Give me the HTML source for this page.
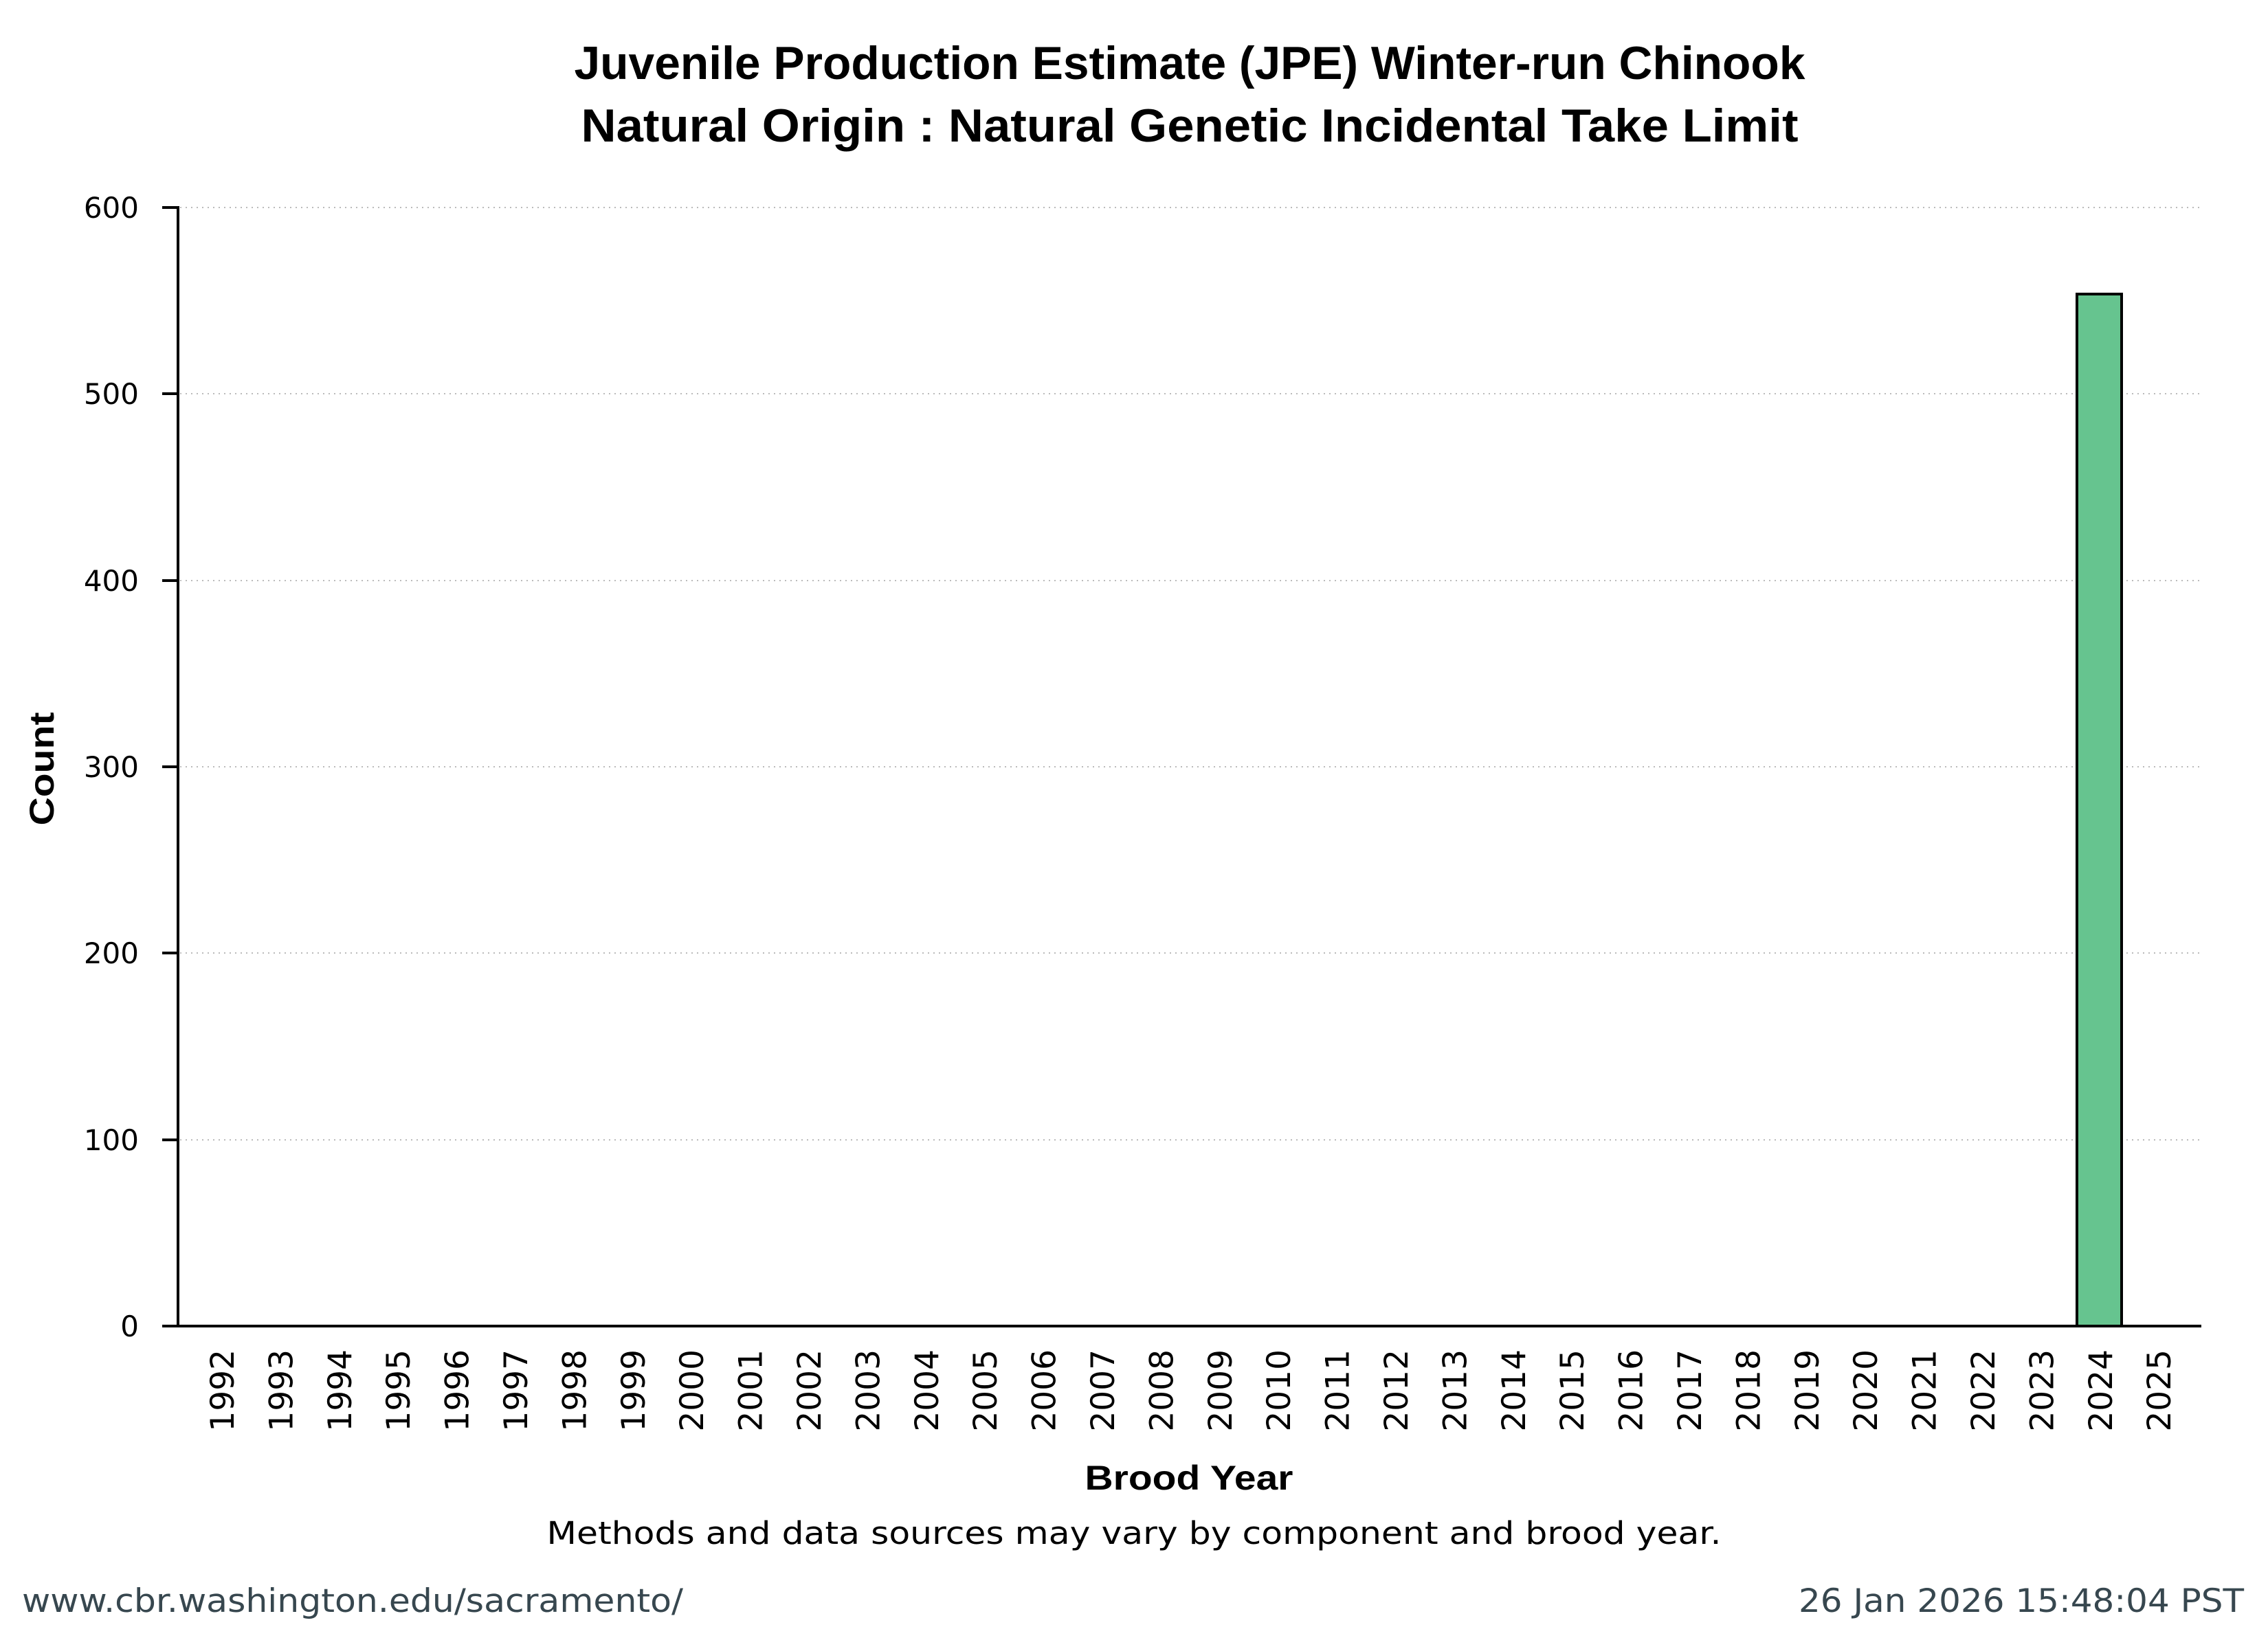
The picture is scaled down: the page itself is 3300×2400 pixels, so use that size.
<!DOCTYPE html>
<html><head><meta charset="utf-8"><style>html,body{margin:0;padding:0;background:#fff}svg{display:block}</style></head>
<body>
<svg xmlns="http://www.w3.org/2000/svg" width="3300" height="2400" viewBox="0 0 3300 2400">
<rect width="3300" height="2400" fill="#fff"/>
<g font-family="Liberation Sans, sans-serif" font-weight="bold" fill="#000" text-anchor="middle">
<text x="1731" y="115" font-size="68" textLength="1791" lengthAdjust="spacingAndGlyphs">Juvenile Production Estimate (JPE) Winter-run Chinook</text>
<text x="1731" y="206" font-size="68" textLength="1771" lengthAdjust="spacingAndGlyphs">Natural Origin : Natural Genetic Incidental Take Limit</text>
<text x="1730" y="2168" font-size="50" textLength="303" lengthAdjust="spacingAndGlyphs">Brood Year</text>
<text transform="translate(78,1119) rotate(-90)" font-size="50" textLength="165" lengthAdjust="spacingAndGlyphs">Count</text>
</g>
<g stroke="#bbb" stroke-width="2" stroke-dasharray="2,6">
<line x1="262" y1="302" x2="3203" y2="302"/>
<line x1="262" y1="573" x2="3203" y2="573"/>
<line x1="262" y1="845" x2="3203" y2="845"/>
<line x1="262" y1="1116" x2="3203" y2="1116"/>
<line x1="262" y1="1387" x2="3203" y2="1387"/>
<line x1="262" y1="1659" x2="3203" y2="1659"/>
</g>
<rect x="3022" y="428" width="65" height="1502" fill="#66c48f" stroke="#000" stroke-width="4"/>
<g stroke="#000" stroke-width="4">
<line x1="259" y1="300" x2="259" y2="1932"/>
<line x1="236" y1="1930" x2="3203" y2="1930"/>
<line x1="236" y1="302" x2="259" y2="302"/>
<line x1="236" y1="573" x2="259" y2="573"/>
<line x1="236" y1="845" x2="259" y2="845"/>
<line x1="236" y1="1116" x2="259" y2="1116"/>
<line x1="236" y1="1387" x2="259" y2="1387"/>
<line x1="236" y1="1659" x2="259" y2="1659"/>
</g>
<g font-family="DejaVu Sans, sans-serif" font-size="42" fill="#000" text-anchor="end">
<text x="202" y="317">600</text>
<text x="202" y="588">500</text>
<text x="202" y="860">400</text>
<text x="202" y="1131">300</text>
<text x="202" y="1402">200</text>
<text x="202" y="1674">100</text>
<text x="202" y="1945">0</text>
</g>
<g font-family="DejaVu Sans, sans-serif" font-size="47" fill="#000" text-anchor="end">
<text transform="translate(340,1964) rotate(-90)">1992</text>
<text transform="translate(425.4,1964) rotate(-90)">1993</text>
<text transform="translate(510.8,1964) rotate(-90)">1994</text>
<text transform="translate(596.2,1964) rotate(-90)">1995</text>
<text transform="translate(681.6,1964) rotate(-90)">1996</text>
<text transform="translate(767,1964) rotate(-90)">1997</text>
<text transform="translate(852.4,1964) rotate(-90)">1998</text>
<text transform="translate(937.8,1964) rotate(-90)">1999</text>
<text transform="translate(1023.2,1964) rotate(-90)">2000</text>
<text transform="translate(1108.6,1964) rotate(-90)">2001</text>
<text transform="translate(1194,1964) rotate(-90)">2002</text>
<text transform="translate(1279.4,1964) rotate(-90)">2003</text>
<text transform="translate(1364.8,1964) rotate(-90)">2004</text>
<text transform="translate(1450.2,1964) rotate(-90)">2005</text>
<text transform="translate(1535.6,1964) rotate(-90)">2006</text>
<text transform="translate(1621,1964) rotate(-90)">2007</text>
<text transform="translate(1706.4,1964) rotate(-90)">2008</text>
<text transform="translate(1791.8,1964) rotate(-90)">2009</text>
<text transform="translate(1877.2,1964) rotate(-90)">2010</text>
<text transform="translate(1962.6,1964) rotate(-90)">2011</text>
<text transform="translate(2048,1964) rotate(-90)">2012</text>
<text transform="translate(2133.4,1964) rotate(-90)">2013</text>
<text transform="translate(2218.8,1964) rotate(-90)">2014</text>
<text transform="translate(2304.2,1964) rotate(-90)">2015</text>
<text transform="translate(2389.6,1964) rotate(-90)">2016</text>
<text transform="translate(2475,1964) rotate(-90)">2017</text>
<text transform="translate(2560.4,1964) rotate(-90)">2018</text>
<text transform="translate(2645.8,1964) rotate(-90)">2019</text>
<text transform="translate(2731.2,1964) rotate(-90)">2020</text>
<text transform="translate(2816.6,1964) rotate(-90)">2021</text>
<text transform="translate(2902,1964) rotate(-90)">2022</text>
<text transform="translate(2987.4,1964) rotate(-90)">2023</text>
<text transform="translate(3072.8,1964) rotate(-90)">2024</text>
<text transform="translate(3158.2,1964) rotate(-90)">2025</text>
</g>
<text x="1650" y="2247" font-family="DejaVu Sans, sans-serif" font-size="45" fill="#000" text-anchor="middle" textLength="1709" lengthAdjust="spacingAndGlyphs">Methods and data sources may vary by component and brood year.</text>
<text x="32" y="2346" font-family="DejaVu Sans, sans-serif" font-size="47" fill="#37474f" textLength="962" lengthAdjust="spacingAndGlyphs">www.cbr.washington.edu/sacramento/</text>
<text x="3265" y="2346" font-family="DejaVu Sans, sans-serif" font-size="47" fill="#37474f" text-anchor="end" textLength="648" lengthAdjust="spacingAndGlyphs">26 Jan 2026 15:48:04 PST</text>
</svg>
</body></html>
